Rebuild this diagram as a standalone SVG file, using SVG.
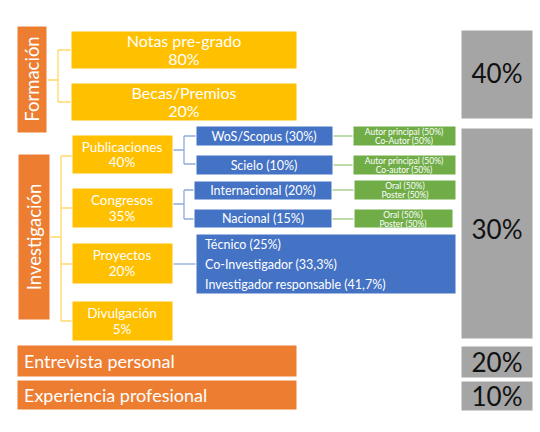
<svg xmlns="http://www.w3.org/2000/svg" width="540" height="432" viewBox="0 0 540 432">
<style>
text{font-family:Lato,"Open Sans","Liberation Sans",sans-serif;fill:#fff;text-anchor:middle}
.or{fill:#ED7D31;stroke:#fff;stroke-width:1}
.go{fill:#FFC000;stroke:#fff;stroke-width:1}
.bl{fill:#4472C4;stroke:#fff;stroke-width:1}
.gr{fill:#70AD47;stroke:#fff;stroke-width:1}
.gy{fill:#A5A5A5;stroke:#fff;stroke-width:1}
.cg{stroke:#FFD966;fill:none;stroke-width:1.3}
.cb{stroke:#8FAADC;fill:none;stroke-width:1.3}
.cgr{stroke:#A9D18E;fill:none;stroke-width:1.3}
.t16{font-size:16px}
.t13{font-size:13.5px}
.t12{font-size:12.5px}
.t8{font-size:8.5px}
.big{font-size:26px;fill:#111}
.side{font-size:18.5px}
.left{text-anchor:start}
</style>
<rect width="540" height="432" fill="#fff"/>
<g id="connectors">
<path class="cg" d="M47 80H58M58 50V102M58 50H71M58 102H71"/>
<path class="cg" d="M50 237H61M61 156V321M61 156H72M61 208H72M61 264H72M61 321H72"/>
<path class="cb" d="M173 150H184M184 136V164M184 136H196M184 164H196"/>
<path class="cb" d="M173 204H184M184 190V219M184 190H194M184 219H194"/>
<path class="cb" d="M173 264H196"/>
<path class="cgr" d="M333 136H353M333 165H353M332 190H354M332 219H354"/>
</g>
<g id="formacion"><rect class="or" x="17" y="26" width="30" height="107"/><text class="side" transform="translate(38.5 79) rotate(-90)">Formación</text></g>
<g id="notas"><rect class="go" x="71" y="31" width="226" height="38"/><text class="t16" x="184" y="47">Notas pre-grado</text><text class="t16" x="184" y="65">80%</text></g>
<g id="becas"><rect class="go" x="71" y="83" width="226" height="38"/><text class="t16" x="184" y="99">Becas/Premios</text><text class="t16" x="184" y="117">20%</text></g>
<g id="investigacion"><rect class="or" x="18" y="154" width="32" height="166"/><text class="side" transform="translate(40.5 237) rotate(-90)">Investigación</text></g>
<g id="publicaciones"><rect class="go" x="72" y="135" width="101" height="39"/><text class="t13" x="122" y="152">Publicaciones</text><text class="t13" x="122" y="167">40%</text></g>
<g id="congresos"><rect class="go" x="72" y="188" width="101" height="40"/><text class="t13" x="122" y="205">Congresos</text><text class="t13" x="122" y="221">35%</text></g>
<g id="proyectos"><rect class="go" x="72" y="243" width="101" height="41"/><text class="t13" x="122" y="260">Proyectos</text><text class="t13" x="122" y="276">20%</text></g>
<g id="divulgacion"><rect class="go" x="72" y="301" width="101" height="40"/><text class="t13" x="122" y="318">Divulgación</text><text class="t13" x="122" y="334">5%</text></g>
<g id="wos"><rect class="bl" x="196" y="126" width="137" height="20"/><text class="t12" x="264" y="140.5">WoS/Scopus (30%)</text></g>
<g id="scielo"><rect class="bl" x="196" y="155" width="137" height="20"/><text class="t12" x="264" y="169.5">Scielo (10%)</text></g>
<g id="internacional"><rect class="bl" x="194" y="181" width="138" height="19"/><text class="t12" x="263" y="195">Internacional (20%)</text></g>
<g id="nacional"><rect class="bl" x="194" y="209" width="138" height="19"/><text class="t12" x="263" y="223">Nacional (15%)</text></g>
<g id="g-wos"><rect class="gr" x="353" y="126" width="103" height="20"/><text class="t8" x="404" y="134.5">Autor principal (50%)</text><text class="t8" x="404" y="143.5">Co-Autor (50%)</text></g>
<g id="g-scielo"><rect class="gr" x="353" y="155" width="103" height="20"/><text class="t8" x="404" y="163.5">Autor principal (50%)</text><text class="t8" x="404" y="172.5">Co-autor (50%)</text></g>
<g id="g-internacional"><rect class="gr" x="354" y="180" width="102" height="20"/><text class="t8" x="405" y="188.5">Oral (50%)</text><text class="t8" x="405" y="197.5">Poster (50%)</text></g>
<g id="g-nacional"><rect class="gr" x="354" y="209" width="99" height="19"/><text class="t8" x="403" y="217.5">Oral (50%)</text><text class="t8" x="403" y="226.5">Poster (50%)</text></g>
<g id="proy-detalle"><rect class="bl" x="196" y="234" width="260" height="60"/>
<text class="t12 left" x="205" y="248.5">Técnico (25%)</text>
<text class="t12 left" x="205" y="268.5">Co-Investigador (33,3%)</text>
<text class="t12 left" x="205" y="288.5">Investigador responsable (41,7%)</text></g>
<g id="entrevista"><rect class="or" x="17" y="345" width="280" height="32"/><text class="left" style="font-size:18px" x="24" y="368">Entrevista personal</text></g>
<g id="experiencia"><rect class="or" x="17" y="380" width="280" height="30"/><text class="left" style="font-size:18px" x="24" y="402">Experiencia profesional</text></g>
<g id="p40"><rect class="gy" x="461" y="30" width="72" height="89"/><text class="big" x="497" y="83">40%</text></g>
<g id="p30"><rect class="gy" x="461" y="128" width="72" height="211"/><text class="big" x="497" y="239">30%</text></g>
<g id="p20"><rect class="gy" x="461" y="346" width="72" height="32"/><text class="big" x="497" y="372">20%</text></g>
<g id="p10"><rect class="gy" x="461" y="381" width="72" height="30"/><text class="big" x="497" y="406">10%</text></g>
</svg>
